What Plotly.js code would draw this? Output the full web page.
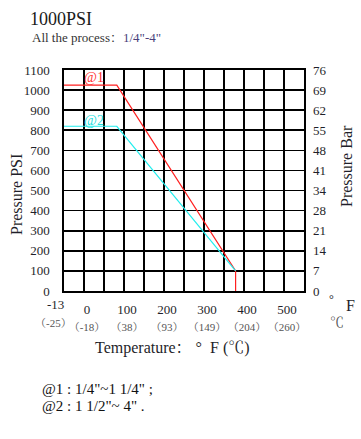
<!DOCTYPE html>
<html>
<head>
<meta charset="utf-8">
<script src="https://cdn.plot.ly/plotly-3.0.1.min.js"></script>
<style>html,body{margin:0;padding:0;background:#fff}#chart{width:361px;height:439px}</style>
</head>
<body>
<div id="chart"></div>
<script>
// Data (°F, PSI)
const seriesNames = ['@1', '@2'];
const temp1 = [-50, 82, 379, 379];
const psi1  = [1025, 1025, 100, 0];
const temp2 = [-50, 82, 379];
const psi2  = [820, 820, 100];

// Tick labels
const tickF = [0, 100, 200, 300, 400, 500];
const tickFText = ['0', '100', '200', '300', '400', '500'];
const tickCText = ['（-18）', '（38）', '（93）', '（149）', '（204）', '（260）'];
const firstF = '-13';
const firstC = '（-25）';
const psiTicks = [0, 100, 200, 300, 400, 500, 600, 700, 800, 900, 1000, 1100];
const barTicks = ['0', '7', '14', '21', '28', '34', '41', '48', '55', '62', '69', '76'];

const FONT = 'Liberation Serif, Noto Serif CJK SC, Noto Sans CJK SC, serif';
const TXT = '#1f1f2a';

const traces = [
  {x: temp1, y: psi1, mode: 'lines', name: seriesNames[0], line: {color: '#ff2020', width: 1.2}, hoverinfo: 'skip'},
  {x: temp2, y: psi2, mode: 'lines', name: seriesNames[1], line: {color: '#22eeee', width: 1.2}, hoverinfo: 'skip'},
  {x: [null], y: [null], yaxis: 'y2', mode: 'lines', showlegend: false, hoverinfo: 'skip'}
];

const cStyle = 'color:#555;font-size:11px';

const layout = {
  width: 361, height: 439,
  margin: {l: 64, r: 57, t: 70, b: 148},
  paper_bgcolor: '#fff', plot_bgcolor: '#fff',
  showlegend: false,
  font: {family: FONT, color: TXT, size: 13},
  title: {text: '1000PSI', x: 30/361, xanchor: 'left', xref: 'container', y: 1 - 18.5/439, yanchor: 'middle', yref: 'container',
          font: {family: FONT, size: 18, color: '#1a1a1a'}},
  xaxis: {
    range: [-50, 550], tickmode: 'array', tickvals: tickF, tickangle: 0,
    ticktext: tickF.map((v, i) => tickFText[i] + '<br><span style="' + cStyle + '">' + tickCText[i] + '</span>'),
    showgrid: true, gridcolor: '#000', gridwidth: 1.6,
    minor: {tickmode: 'linear', tick0: -50, dtick: 100, showgrid: true, gridcolor: '#000', gridwidth: 1.6},
    showline: true, linecolor: '#000', linewidth: 1.6, mirror: true,
    zeroline: false, ticks: '', ticklabelshift: 3, ticklabelstandoff: 6,
    tickfont: {family: FONT, size: 13, color: TXT}
  },
  yaxis: {
    range: [0, 1100], tickmode: 'array', tickvals: psiTicks, ticktext: psiTicks.map(String),
    showgrid: true, gridcolor: '#000', gridwidth: 1.6,
    showline: true, linecolor: '#000', linewidth: 1.6, mirror: true,
    zeroline: false, ticks: '', ticklabelstandoff: 10,
    tickfont: {family: FONT, size: 13, color: TXT}
  },
  yaxis2: {
    overlaying: 'y', side: 'right', range: [0, 1100], tickmode: 'array', tickvals: psiTicks, ticktext: barTicks,
    showgrid: false, zeroline: false, showline: false, ticks: '', ticklabelstandoff: 8,
    tickfont: {family: FONT, size: 13, color: TXT}
  },
  annotations: [
    {text: 'All the process：<span style="color:#4a3f7a">1/4"-4"</span>', xref: 'paper', yref: 'paper', x: -34/240, y: 254/221,
     xanchor: 'left', yanchor: 'middle', showarrow: false, font: {family: FONT, size: 13, color: '#333'}},
    {text: 'Pressure PSI', xref: 'paper', yref: 'paper', x: -48/240, y: 96/221, textangle: -90,
     xanchor: 'center', yanchor: 'middle', showarrow: false, font: {family: FONT, size: 16, color: TXT}},
    {text: 'Pressure Bar', xref: 'paper', yref: 'paper', x: 282/240, y: 125/221, textangle: -90,
     xanchor: 'center', yanchor: 'middle', showarrow: false, font: {family: FONT, size: 16, color: TXT}},
    {text: '°', xref: 'paper', yref: 'paper', x: 267/240, y: -8/221,
     xanchor: 'center', yanchor: 'middle', showarrow: false, font: {family: FONT, size: 12, color: TXT}},
    {text: 'F', xref: 'paper', yref: 'paper', x: 286/240, y: -14/221,
     xanchor: 'center', yanchor: 'middle', showarrow: false, font: {family: FONT, size: 16, color: TXT}},
    {text: '℃', xref: 'paper', yref: 'paper', x: 273/240, y: -31/221,
     xanchor: 'center', yanchor: 'middle', showarrow: false, font: {family: FONT, size: 14, color: '#555'}},
    {text: firstF, xref: 'paper', yref: 'paper', x: -9/240, y: -13/221,
     xanchor: 'center', yanchor: 'middle', showarrow: false, font: {family: FONT, size: 13, color: TXT}},
    {text: firstC, xref: 'paper', yref: 'paper', x: -11/240, y: -32/221,
     xanchor: 'center', yanchor: 'middle', showarrow: false, font: {family: FONT, size: 11, color: '#555'}},
    {text: 'Temperature： °  F (℃)', xref: 'paper', yref: 'paper', x: 108/240, y: -57/221,
     xanchor: 'center', yanchor: 'middle', showarrow: false, font: {family: FONT, size: 16, color: TXT}},
    {text: '@1 : 1/4"~1 1/4" ;', xref: 'paper', yref: 'paper', x: -24/240, y: -98/221,
     xanchor: 'left', yanchor: 'middle', showarrow: false, font: {family: FONT, size: 15, color: '#111'}},
    {text: '@2 : 1 1/2"~ 4" .', xref: 'paper', yref: 'paper', x: -24/240, y: -115/221,
     xanchor: 'left', yanchor: 'middle', showarrow: false, font: {family: FONT, size: 15, color: '#111'}},
    {text: seriesNames[0], xref: 'x', yref: 'y', x: 24, y: 1065, showarrow: false,
     xanchor: 'center', yanchor: 'middle', font: {family: FONT, size: 14, color: '#ff3030'}},
    {text: seriesNames[1], xref: 'x', yref: 'y', x: 24, y: 851, showarrow: false,
     xanchor: 'center', yanchor: 'middle', font: {family: FONT, size: 14, color: '#22e0e0'}}
  ]
};

Plotly.newPlot('chart', traces, layout, {displayModeBar: false, staticPlot: true});
</script>
</body>
</html>
